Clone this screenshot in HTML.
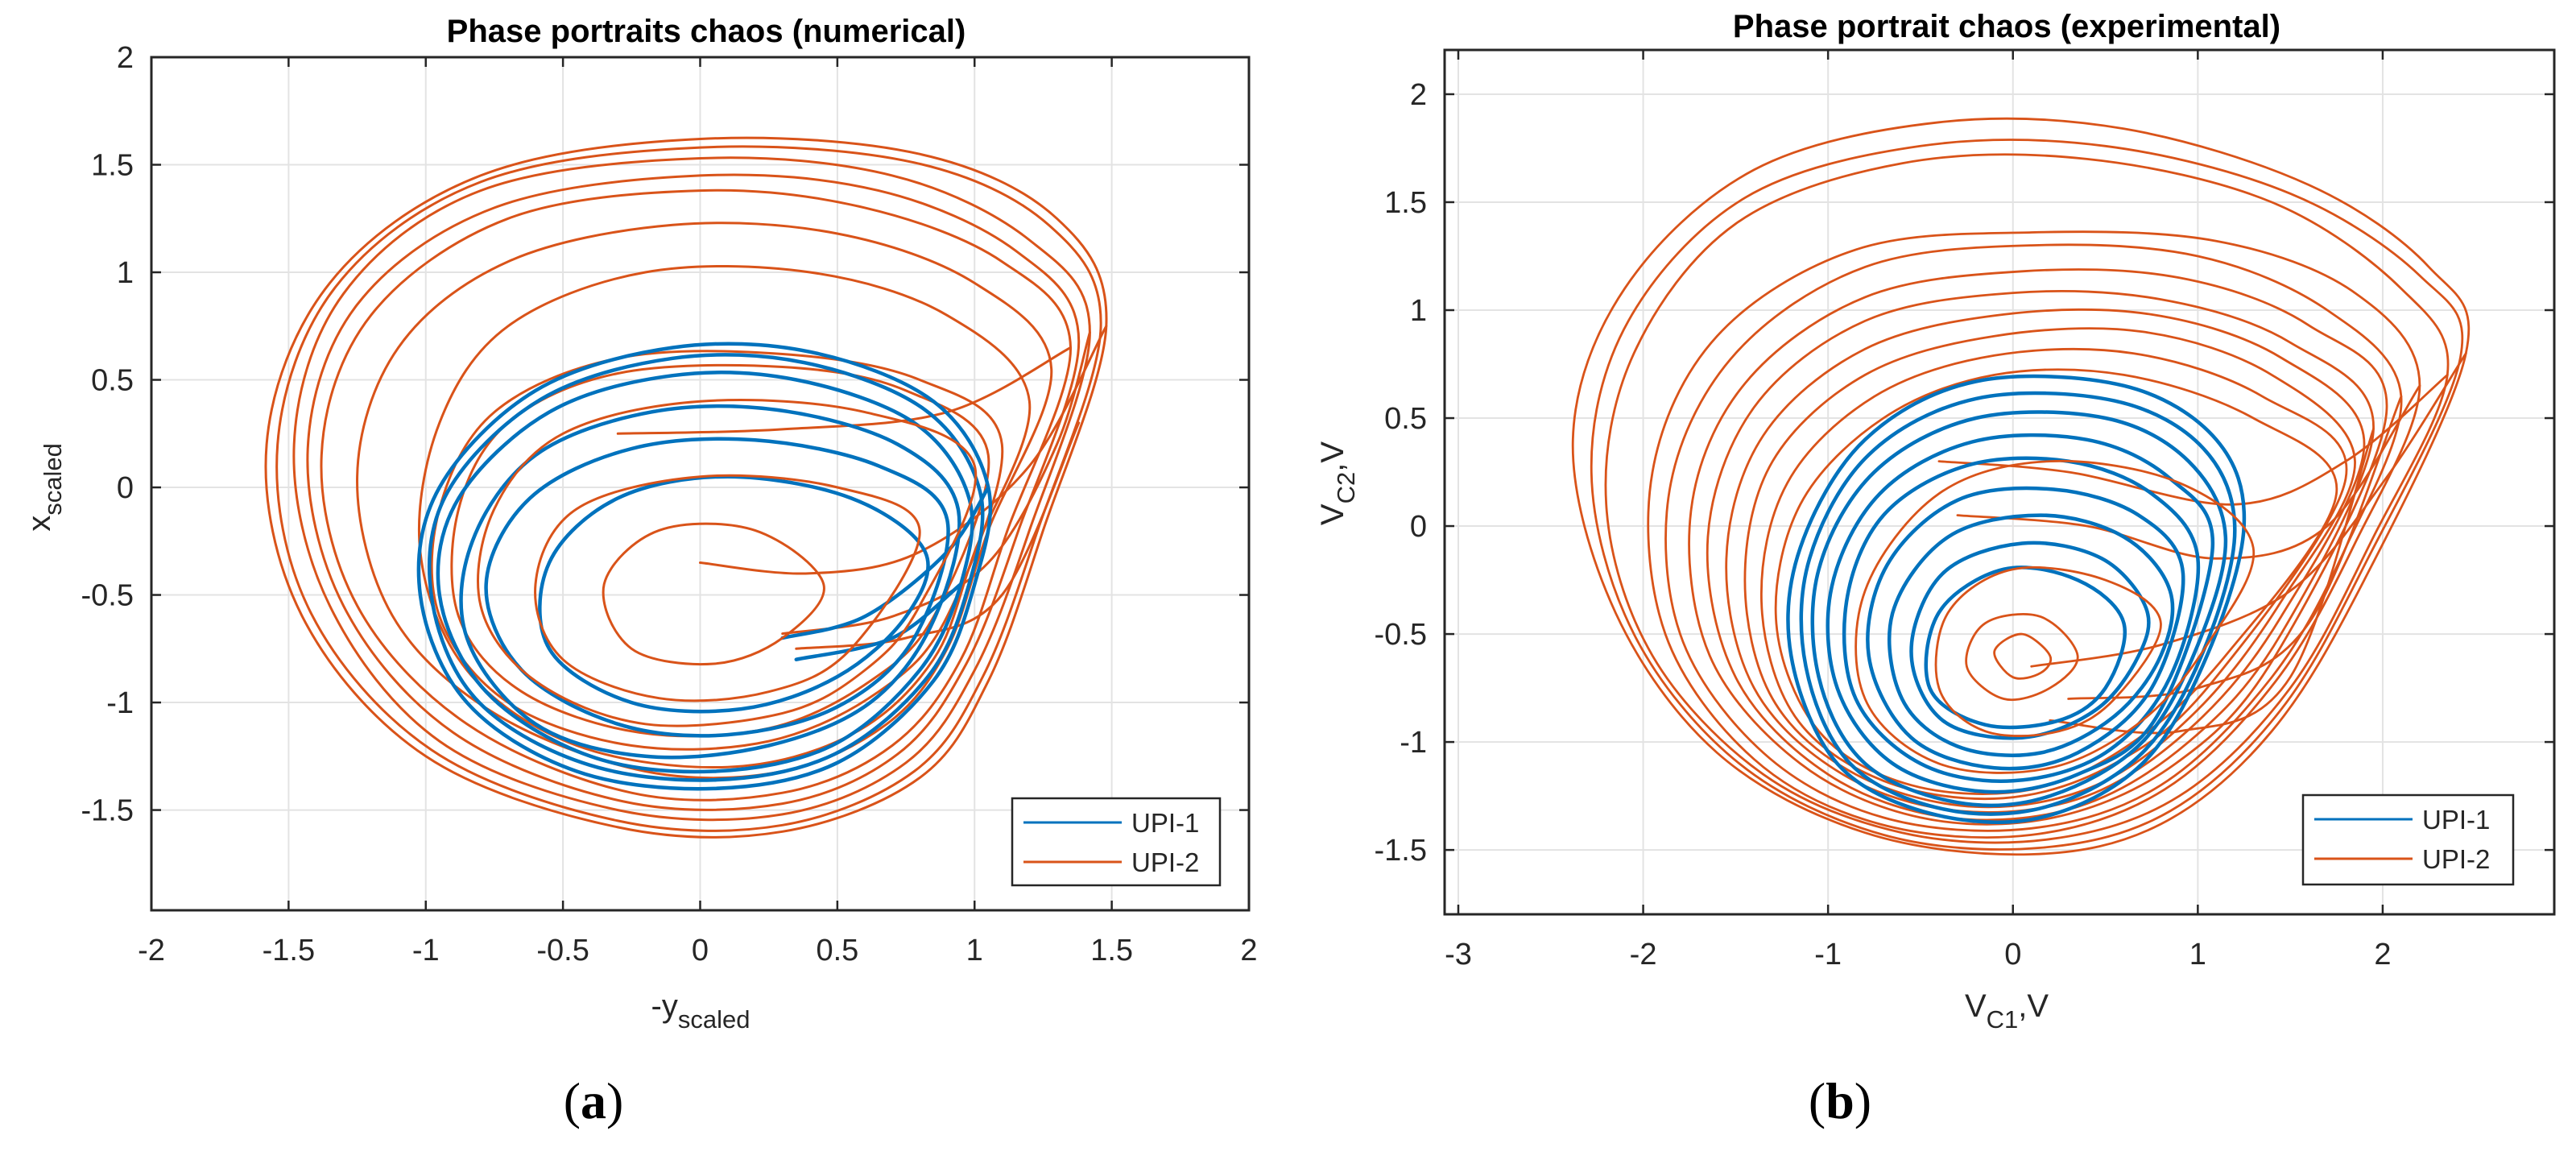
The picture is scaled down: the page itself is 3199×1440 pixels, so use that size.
<!DOCTYPE html>
<html><head><meta charset="utf-8"><style>
html,body{margin:0;padding:0;background:#fff;}
svg{display:block;font-family:"Liberation Sans",Arial,sans-serif;}
</style></head><body>
<svg id="fig" width="3199" height="1440" viewBox="0 0 3199 1440" xmlns="http://www.w3.org/2000/svg">
<rect width="3199" height="1440" fill="#fff"/>
<g id="panelA"></g>
<g id="panelB"></g>
<text x="877" y="52" font-size="40" font-weight="bold" text-anchor="middle" fill="#000">Phase portraits chaos (numerical)</text>
<text x="2492" y="46" font-size="40" font-weight="bold" text-anchor="middle" fill="#000">Phase portrait chaos (experimental)</text>
<text x="870" y="1262" font-size="40" text-anchor="middle" fill="#262626">-y<tspan font-size="31" dy="14">scaled</tspan></text>
<text transform="translate(62,605) rotate(-90)" font-size="40" text-anchor="middle" fill="#262626">x<tspan font-size="31" dy="14">scaled</tspan></text>
<text x="2492" y="1262" font-size="40" text-anchor="middle" fill="#262626">V<tspan font-size="31" dy="14">C1</tspan><tspan dy="-14">,V</tspan></text>
<text transform="translate(1668,600) rotate(-90)" font-size="40" text-anchor="middle" fill="#262626">V<tspan font-size="31" dy="14">C2</tspan><tspan dy="-14">,V</tspan></text>
<text x="737" y="1388" font-size="64" text-anchor="middle" fill="#000" style="font-family:'Liberation Serif',serif">(<tspan font-weight="bold">a</tspan>)</text>
<text x="2285" y="1388" font-size="64" text-anchor="middle" fill="#000" style="font-family:'Liberation Serif',serif">(<tspan font-weight="bold">b</tspan>)</text>
</svg>
<script>
// ---- Panel A data ----
const aXTicks = [-2,-1.5,-1,-0.5,0,0.5,1,1.5,2];
const aXTickLabels = ["-2","-1.5","-1","-0.5","0","0.5","1","1.5","2"];
const aYTicks = [-1.5,-1,-0.5,0,0.5,1,1.5,2];
const aYTickLabels = ["-1.5","-1","-0.5","0","0.5","1","1.5","2"];
const aOrangeOuter = [
 [[1.48,0.75],[1.3,1.25],[0.8,1.55],[0,1.62],[-0.8,1.45],[-1.35,0.95],[-1.58,0.2],[-1.45,-0.6],[-1.0,-1.25],[-0.3,-1.58],[0.3,-1.6],[0.8,-1.35],[1.05,-0.9],[1.25,-0.2]],
 [[1.46,0.74],[1.27,1.22],[0.78,1.51],[0,1.58],[-0.8,1.42],[-1.33,0.93],[-1.54,0.2],[-1.42,-0.58],[-0.98,-1.22],[-0.3,-1.55],[0.3,-1.57],[0.78,-1.32],[1.03,-0.88],[1.23,-0.2]],
 [[1.42,0.72],[1.2,1.15],[0.7,1.45],[0,1.53],[-0.8,1.38],[-1.3,0.9],[-1.48,0.2],[-1.35,-0.55],[-0.95,-1.18],[-0.3,-1.5],[0.3,-1.52],[0.75,-1.28],[1.0,-0.85],[1.2,-0.2]],
 [[1.38,0.68],[1.15,1.1],[0.65,1.38],[0,1.45],[-0.75,1.3],[-1.25,0.85],[-1.43,0.18],[-1.3,-0.55],[-0.9,-1.14],[-0.28,-1.46],[0.3,-1.47],[0.72,-1.24],[0.97,-0.82],[1.16,-0.2]],
 [[1.35,0.65],[1.1,1.05],[0.6,1.3],[0,1.38],[-0.7,1.25],[-1.2,0.8],[-1.38,0.15],[-1.25,-0.55],[-0.85,-1.1],[-0.25,-1.42],[0.3,-1.42],[0.7,-1.2],[0.95,-0.8],[1.12,-0.2]],
 [[1.28,0.55],[1.0,0.95],[0.5,1.18],[-0.1,1.22],[-0.7,1.05],[-1.1,0.65],[-1.25,0.05],[-1.12,-0.6],[-0.75,-1.05],[-0.2,-1.32],[0.3,-1.32],[0.68,-1.1],[0.9,-0.75],[1.05,-0.2]],
 [[1.2,0.4],[0.9,0.8],[0.4,1.0],[-0.2,1.0],[-0.7,0.75],[-0.95,0.3],[-1.02,-0.3],[-0.85,-0.85],[-0.45,-1.2],[0.1,-1.3],[0.55,-1.15],[0.85,-0.8],[1.0,-0.3]],
 [[1.1,0.2],[0.8,0.5],[0.3,0.62],[-0.3,0.6],[-0.75,0.35],[-0.95,-0.1],[-0.95,-0.6],[-0.7,-1.0],[-0.25,-1.2],[0.25,-1.18],[0.65,-0.95],[0.9,-0.6]],
 [[1.05,0.15],[0.75,0.45],[0.3,0.56],[-0.3,0.53],[-0.7,0.3],[-0.88,-0.1],[-0.88,-0.6],[-0.65,-0.95],[-0.22,-1.14],[0.25,-1.12],[0.62,-0.9],[0.86,-0.58]]
];
const aBlue = [
 [[1.05,0.0],[0.85,0.4],[0.4,0.63],[-0.1,0.65],[-0.6,0.45],[-0.95,0.0],[-1.02,-0.5],[-0.85,-1.0],[-0.45,-1.32],[0.05,-1.4],[0.5,-1.28],[0.85,-0.9],[1.0,-0.45]],
 [[1.02,-0.02],[0.82,0.36],[0.38,0.58],[-0.1,0.6],[-0.58,0.41],[-0.92,-0.02],[-0.98,-0.5],[-0.82,-0.98],[-0.43,-1.28],[0.05,-1.36],[0.49,-1.24],[0.83,-0.88],[0.98,-0.45]],
 [[0.98,-0.05],[0.78,0.3],[0.35,0.5],[-0.1,0.52],[-0.55,0.35],[-0.88,-0.05],[-0.95,-0.5],[-0.78,-0.95],[-0.4,-1.25],[0.05,-1.32],[0.48,-1.2],[0.8,-0.85],[0.95,-0.45]],
 [[0.94,-0.1],[0.72,0.2],[0.28,0.36],[-0.18,0.35],[-0.6,0.15],[-0.83,-0.25],[-0.85,-0.7],[-0.6,-1.1],[-0.2,-1.25],[0.25,-1.2],[0.62,-1.0],[0.85,-0.62]],
 [[0.9,-0.15],[0.65,0.1],[0.2,0.22],[-0.25,0.18],[-0.62,-0.05],[-0.78,-0.45],[-0.65,-0.85],[-0.3,-1.1],[0.1,-1.15],[0.5,-1.02],[0.78,-0.7]],
 [[0.82,-0.3],[0.55,-0.05],[0.1,0.05],[-0.3,-0.05],[-0.55,-0.35],[-0.55,-0.75],[-0.25,-1.0],[0.15,-1.03],[0.5,-0.88],[0.75,-0.6]]
];
const aOrangeInner = [
 [[1.0,0.1],[0.6,0.35],[0.0,0.4],[-0.5,0.25],[-0.75,-0.1],[-0.8,-0.55],[-0.6,-0.9],[-0.2,-1.1],[0.3,-1.05],[0.6,-0.85],[0.8,-0.55]],
 [[0.8,-0.2],[0.5,0.0],[0.0,0.05],[-0.45,-0.1],[-0.6,-0.45],[-0.5,-0.8],[-0.15,-0.98],[0.25,-0.95],[0.55,-0.75]],
 [[0.45,-0.45],[0.2,-0.2],[-0.15,-0.2],[-0.35,-0.45],[-0.25,-0.75],[0.05,-0.82],[0.3,-0.7]]
];
const aOrangeTails = [
 [[0,-0.35],[0.4,-0.4],[0.8,-0.3],[1.2,0.1],[1.48,0.75]],
 [[0.3,-0.68],[0.7,-0.6],[1.05,-0.35],[1.3,0.2],[1.42,0.72]],
 [[-0.3,0.25],[0.3,0.27],[0.9,0.35],[1.35,0.65]],
 [[0.35,-0.75],[0.75,-0.7],[1.1,-0.5],[1.38,0.3]]
];
const aBlueTails = [[[0.3,-0.7],[0.6,-0.6],[0.9,-0.3],[1.05,0.0]],[[0.35,-0.8],[0.7,-0.7],[0.95,-0.45]]];

// ---- Panel B data ----
const bXTicks = [-3,-2,-1,0,1,2];
const bXTickLabels = ["-3","-2","-1","0","1","2"];
const bYTicks = [-1.5,-1,-0.5,0,0.5,1,1.5,2];
const bYTickLabels = ["-1.5","-1","-0.5","0","0.5","1","1.5","2"];
const bOrangeOuter = [
 [[2.45,0.8],[2.25,1.2],[1.6,1.58],[0.6,1.84],[-0.4,1.87],[-1.4,1.65],[-2.1,1.1],[-2.38,0.4],[-2.15,-0.4],[-1.6,-1.05],[-0.8,-1.42],[0.1,-1.52],[0.8,-1.38],[1.4,-0.95],[1.9,-0.25]],
 [[2.42,0.78],[2.2,1.16],[1.5,1.54],[0.5,1.76],[-0.5,1.76],[-1.45,1.52],[-2.08,0.95],[-2.28,0.25],[-2.05,-0.5],[-1.48,-1.1],[-0.7,-1.43],[0.15,-1.49],[0.85,-1.32],[1.45,-0.85],[1.92,-0.15]],
 [[2.35,0.7],[2.1,1.1],[1.4,1.5],[0.4,1.7],[-0.6,1.68],[-1.5,1.4],[-2.05,0.8],[-2.2,0.1],[-1.95,-0.6],[-1.35,-1.15],[-0.6,-1.42],[0.2,-1.45],[0.9,-1.25],[1.5,-0.75],[1.95,-0.05]],
 [[2.2,0.65],[1.85,1.08],[1.1,1.32],[0.1,1.36],[-0.85,1.28],[-1.6,0.88],[-1.95,0.25],[-1.88,-0.5],[-1.4,-1.08],[-0.72,-1.38],[0.1,-1.43],[0.82,-1.22],[1.42,-0.72],[1.85,-0.08]],
 [[2.1,0.6],[1.7,1.0],[1.0,1.25],[0.1,1.3],[-0.8,1.2],[-1.5,0.8],[-1.85,0.2],[-1.8,-0.5],[-1.35,-1.05],[-0.7,-1.35],[0.1,-1.4],[0.8,-1.2],[1.4,-0.7],[1.8,-0.1]],
 [[2.02,0.52],[1.6,0.93],[0.9,1.15],[0.05,1.18],[-0.8,1.06],[-1.45,0.66],[-1.74,0.08],[-1.64,-0.6],[-1.15,-1.1],[-0.5,-1.35],[0.22,-1.35],[0.88,-1.1],[1.42,-0.6]],
 [[1.95,0.45],[1.5,0.85],[0.8,1.05],[0.0,1.08],[-0.8,0.95],[-1.4,0.55],[-1.65,-0.05],[-1.5,-0.7],[-1.0,-1.15],[-0.35,-1.35],[0.35,-1.3],[0.95,-1.0],[1.45,-0.5]],
 [[1.9,0.38],[1.45,0.78],[0.75,0.98],[-0.05,0.98],[-0.8,0.82],[-1.35,0.42],[-1.55,-0.15],[-1.4,-0.75],[-0.92,-1.15],[-0.28,-1.32],[0.4,-1.25],[0.98,-0.92],[1.45,-0.42]],
 [[1.85,0.3],[1.4,0.7],[0.7,0.9],[-0.1,0.88],[-0.8,0.7],[-1.3,0.3],[-1.45,-0.25],[-1.3,-0.8],[-0.85,-1.15],[-0.2,-1.3],[0.45,-1.2],[1.0,-0.85],[1.45,-0.35]],
 [[1.8,0.22],[1.35,0.6],[0.65,0.8],[-0.1,0.79],[-0.75,0.6],[-1.22,0.2],[-1.36,-0.35],[-1.18,-0.88],[-0.7,-1.18],[-0.05,-1.26],[0.55,-1.1],[1.08,-0.72]],
 [[1.75,0.15],[1.3,0.5],[0.6,0.7],[-0.1,0.7],[-0.7,0.5],[-1.15,0.1],[-1.28,-0.45],[-1.05,-0.95],[-0.55,-1.2],[0.1,-1.22],[0.65,-1.0],[1.15,-0.6]]
];
const bBlue = [
 [[1.25,0.0],[1.1,0.4],[0.6,0.65],[-0.2,0.67],[-0.8,0.4],[-1.15,-0.1],[-1.2,-0.6],[-0.95,-1.1],[-0.45,-1.33],[0.15,-1.35],[0.7,-1.1],[1.05,-0.6]],
 [[1.2,-0.02],[1.03,0.36],[0.55,0.58],[-0.2,0.59],[-0.78,0.33],[-1.1,-0.15],[-1.12,-0.65],[-0.88,-1.1],[-0.38,-1.31],[0.18,-1.3],[0.7,-1.05],[1.03,-0.58]],
 [[1.15,-0.05],[0.95,0.3],[0.5,0.5],[-0.2,0.5],[-0.75,0.25],[-1.05,-0.2],[-1.05,-0.7],[-0.8,-1.1],[-0.3,-1.28],[0.2,-1.25],[0.7,-1.0],[1.0,-0.55]],
 [[1.08,-0.1],[0.85,0.22],[0.4,0.4],[-0.22,0.39],[-0.72,0.15],[-0.98,-0.28],[-0.95,-0.75],[-0.65,-1.1],[-0.15,-1.23],[0.35,-1.15],[0.78,-0.88]],
 [[1.0,-0.15],[0.75,0.15],[0.3,0.3],[-0.25,0.28],[-0.7,0.05],[-0.9,-0.35],[-0.85,-0.8],[-0.5,-1.1],[0.0,-1.18],[0.5,-1.05],[0.85,-0.7]],
 [[0.92,-0.22],[0.68,0.05],[0.22,0.17],[-0.3,0.12],[-0.68,-0.18],[-0.78,-0.6],[-0.55,-0.98],[-0.1,-1.12],[0.35,-1.05],[0.75,-0.75]],
 [[0.85,-0.3],[0.6,-0.05],[0.15,0.05],[-0.35,-0.05],[-0.65,-0.4],[-0.6,-0.8],[-0.3,-1.02],[0.15,-1.05],[0.55,-0.88],[0.8,-0.6]],
 [[0.72,-0.38],[0.48,-0.15],[0.05,-0.08],[-0.38,-0.22],[-0.55,-0.58],[-0.38,-0.9],[0.05,-0.98],[0.45,-0.85],[0.68,-0.6]],
 [[0.6,-0.45],[0.35,-0.25],[-0.05,-0.2],[-0.4,-0.4],[-0.45,-0.75],[-0.15,-0.92],[0.25,-0.9],[0.5,-0.75]]
];
const bOrangeInner = [
 [[1.3,-0.1],[0.9,0.2],[0.2,0.3],[-0.4,0.15],[-0.8,-0.3],[-0.8,-0.8],[-0.4,-1.1],[0.2,-1.12],[0.7,-0.9],[1.05,-0.55]],
 [[0.8,-0.45],[0.5,-0.25],[0.0,-0.2],[-0.35,-0.4],[-0.4,-0.75],[-0.15,-0.95],[0.25,-0.95],[0.55,-0.8]],
 [[0.35,-0.6],[0.15,-0.42],[-0.15,-0.45],[-0.25,-0.65],[-0.05,-0.8],[0.2,-0.75]],
 [[0.2,-0.6],[0.05,-0.5],[-0.1,-0.58],[0.0,-0.7],[0.15,-0.68]]
];
const bOrangeTails = [
 [[0.1,-0.65],[0.8,-0.55],[1.5,-0.3],[2.0,0.2],[2.45,0.8]],
 [[-0.4,0.3],[0.3,0.25],[1.2,0.1],[1.8,0.3],[2.35,0.7]],
 [[0.3,-0.8],[1.0,-0.75],[1.6,-0.45],[2.1,0.6]],
 [[0.2,-0.9],[0.9,-0.95],[1.5,-0.7],[1.95,0.45]],
 [[-0.3,0.05],[0.4,0.0],[1.1,-0.15],[1.7,0.0],[2.2,0.65]]
];

const NS = "http://www.w3.org/2000/svg";
const BLUE = "#0072BD", ORANGE = "#D95319";

function mk(tag, attrs, parent) {
  const e = document.createElementNS(NS, tag);
  for (const k in attrs) e.setAttribute(k, attrs[k]);
  parent.appendChild(e);
  return e;
}
function smoothPath(pts, closed, sx, sy) {
  const P = pts.map(p => [sx(p[0]), sy(p[1])]);
  const n = P.length;
  const get = i => closed ? P[(i + n) % n] : P[Math.max(0, Math.min(n - 1, i))];
  let d = "M" + P[0][0].toFixed(1) + "," + P[0][1].toFixed(1);
  const segs = closed ? n : n - 1;
  for (let i = 0; i < segs; i++) {
    const p0 = get(i - 1), p1 = get(i), p2 = get(i + 1), p3 = get(i + 2);
    const c1 = [p1[0] + (p2[0] - p0[0]) / 6, p1[1] + (p2[1] - p0[1]) / 6];
    const c2 = [p2[0] - (p3[0] - p1[0]) / 6, p2[1] - (p3[1] - p1[1]) / 6];
    d += "C" + c1[0].toFixed(1) + "," + c1[1].toFixed(1) + " " + c2[0].toFixed(1) + "," + c2[1].toFixed(1) + " " + p2[0].toFixed(1) + "," + p2[1].toFixed(1);
  }
  if (closed) d += "Z";
  return d;
}

function drawPanel(g, cfg) {
  const sx = v => cfg.L + (v - cfg.x0) / (cfg.x1 - cfg.x0) * (cfg.R - cfg.L);
  const sy = v => cfg.T + (cfg.y1 - v) / (cfg.y1 - cfg.y0) * (cfg.B - cfg.T);
  const grid = mk("g", {}, g);
  
  
  cfg.xt.forEach((v, i) => {
    const x = sx(v);
    const gl = mk("line", {x1: x, x2: x, y1: cfg.T, y2: cfg.B, stroke: "#e3e3e3", "stroke-width": 2}, grid);
    
    
  });
  cfg.yt.forEach((v, i) => {
    const y = sy(v);
    const gl = mk("line", {x1: cfg.L, x2: cfg.R, y1: y, y2: y, stroke: "#e3e3e3", "stroke-width": 2}, grid);
    
    
  });
  const series = mk("g", {fill: "none", "stroke-linejoin": "round", "stroke-linecap": "round"}, g);
  
  
  const drawSet = (arr, color, w, closed, name) => {
    arr.forEach(pts => {
      const p = mk("path", {d: smoothPath(pts, closed, sx, sy), stroke: color, "stroke-width": w}, series);
      
      
    });
  };
  drawSet(cfg.oOuter, ORANGE, cfg.ow, true, 'upi-2-loop');
  drawSet(cfg.oTails, ORANGE, cfg.ow, false, 'upi-2-branch');
  drawSet(cfg.blue, BLUE, cfg.bw, true, 'upi-1-loop');
  drawSet(cfg.bTails, BLUE, cfg.bw, false, 'upi-1-branch');
  drawSet(cfg.oInner, ORANGE, cfg.ow, true, 'upi-2-inner-loop');
  const box = mk("rect", {x: cfg.L, y: cfg.T, width: cfg.R - cfg.L, height: cfg.B - cfg.T, fill: "none", stroke: "#262626", "stroke-width": 3}, g);
  
  
  const ticks = mk("g", {stroke: "#262626", "stroke-width": 2.5}, g);
  
  
  cfg.xt.forEach(v => {
    const x = sx(v);
    mk("line", {x1: x, x2: x, y1: cfg.B, y2: cfg.B - 12}, ticks);
    mk("line", {x1: x, x2: x, y1: cfg.T, y2: cfg.T + 12}, ticks);
  });
  cfg.yt.forEach(v => {
    const y = sy(v);
    mk("line", {x1: cfg.L, x2: cfg.L + 12, y1: y, y2: y}, ticks);
    mk("line", {x1: cfg.R, x2: cfg.R - 12, y1: y, y2: y}, ticks);
  });
  cfg.xt.forEach((v, i) => {
    const t = mk("text", {x: sx(v), y: cfg.B + 62, "font-size": 38, "text-anchor": "middle", fill: "#262626"}, g);
    t.textContent = cfg.xl[i];
    
    
  });
  cfg.yt.forEach((v, i) => {
    const t = mk("text", {x: cfg.L - 22, y: sy(v) + 13, "font-size": 38, "text-anchor": "end", fill: "#262626"}, g);
    t.textContent = cfg.yl[i];
    
    
  });
  const lg = mk("g", {}, g);
  
  
  mk("rect", {x: cfg.lx, y: cfg.ly, width: cfg.lw, height: cfg.lh, fill: "#fff", stroke: "#262626", "stroke-width": 2.5}, lg);
  [["UPI-1", BLUE, cfg.ly + 30], ["UPI-2", ORANGE, cfg.ly + 79]].forEach(e => {
    const en = mk("g", {}, lg);
    
    
    mk("line", {x1: cfg.lx + 14, x2: cfg.lx + 136, y1: e[2], y2: e[2], stroke: e[1], "stroke-width": 3}, en);
    const t = mk("text", {x: cfg.lx + 148, y: e[2] + 12, "font-size": 33, fill: "#262626"}, en);
    t.textContent = e[0];
  });
}

drawPanel(document.getElementById("panelA"), {
  L: 188, R: 1551, T: 71, B: 1130, x0: -2, x1: 2, y0: -1.966, y1: 2,
  xt: aXTicks, xl: aXTickLabels, yt: aYTicks, yl: aYTickLabels,
  oOuter: aOrangeOuter, oInner: aOrangeInner, oTails: aOrangeTails,
  blue: aBlue, bTails: aBlueTails, ow: 3, bw: 4.5,
  lx: 1257, ly: 991, lw: 258, lh: 108
});
drawPanel(document.getElementById("panelB"), {
  L: 1794, R: 3172, T: 62, B: 1135, x0: -3.074, x1: 2.928, y0: -1.798, y1: 2.205,
  xt: bXTicks, xl: bXTickLabels, yt: bYTicks, yl: bYTickLabels,
  oOuter: bOrangeOuter, oInner: bOrangeInner, oTails: bOrangeTails,
  blue: bBlue, bTails: [], ow: 2.8, bw: 4.5,
  lx: 2860, ly: 987, lw: 261, lh: 111
});
</script>
</body></html>
